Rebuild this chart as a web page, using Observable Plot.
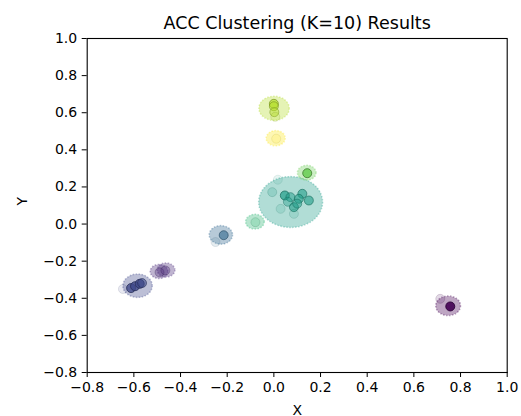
<!DOCTYPE html>
<html><head><meta charset="utf-8">
<script src="https://cdn.jsdelivr.net/npm/d3@7"></script>
<script src="https://cdn.jsdelivr.net/npm/@observablehq/plot@0.6"></script>
<style>body{margin:0;background:#fff}</style>
</head><body><div id="chart"></div>
<script>
const title = "ACC Clustering (K=10) Results";
const xLabel = "X";
const yLabel = "Y";
const xTicks = [-0.8, -0.6, -0.4, -0.2, 0.0, 0.2, 0.4, 0.6, 0.8, 1.0];
const yTicks = [-0.8, -0.6, -0.4, -0.2, 0.0, 0.2, 0.4, 0.6, 0.8, 1.0];

// cluster halos (center and radius in data units)
const haloCluster = [0, 1, 1, 2, 3, 5, 6, 7, 9, 8];
const haloX = [0.749, -0.49, -0.46, -0.582, -0.225, 0.074, -0.079, 0.143, 0.010, 0.003];
const haloY = [-0.443, -0.258, -0.250, -0.335, -0.061, 0.116, 0.010, 0.274, 0.460, 0.621];
const haloR = [0.053, 0.038, 0.038, 0.063, 0.050, 0.137, 0.040, 0.040, 0.041, 0.065];

// member points
const pointCluster = [0, 0, 1, 1, 2, 2, 2, 2, 2, 3, 3, 5, 5, 5, 5, 5, 5, 5, 5, 5, 5, 5, 5, 6, 7, 9, 8, 8, 8, 8];
const pointX = [0.756, 0.713, -0.49, -0.465, -0.612, -0.595, -0.575, -0.565, -0.647, -0.215, -0.25,
  0.047, 0.122, 0.150, 0.086, 0.107, 0.071, 0.100, 0.060, -0.007, 0.017, 0.029, 0.086,
  -0.079, 0.143, 0.010, 0.000, 0.000, 0.002, 0.006];
const pointY = [-0.444, -0.403, -0.26, -0.25, -0.345, -0.335, -0.322, -0.318, -0.350, -0.060, -0.097,
  0.154, 0.163, 0.127, 0.091, 0.136, 0.145, 0.110, 0.120, 0.172, 0.239, 0.082, 0.055,
  0.010, 0.274, 0.460, 0.648, 0.635, 0.603, 0.578];
const pointAlpha = [0.9, 0.15, 0.3, 0.3, 0.8, 0.8, 0.8, 0.6, 0.12, 0.6, 0.12,
  0.7, 0.6, 0.6, 0.6, 0.6, 0.5, 0.5, 0.4, 0.2, 0.1, 0.15, 0.15,
  0.2, 0.9, 0.15, 0.7, 0.6, 0.5, 0.2];

const color = c => d3.interpolateViridis(c / 9);
const halos = haloX.map((x, i) => ({x, y: haloY[i], r: haloR[i], c: haloCluster[i]}));
const pts = pointX.map((x, i) => ({x, y: pointY[i], a: pointAlpha[i], c: pointCluster[i]}));

const haloMark = (index, scales) => {
  const g = d3.create("svg:g");
  for (const h of halos) {
    const cx = scales.x(h.x), cy = scales.y(h.y);
    g.append("ellipse")
      .attr("cx", cx).attr("cy", cy)
      .attr("rx", Math.abs(scales.x(h.x + h.r) - cx))
      .attr("ry", Math.abs(scales.y(h.y + h.r) - cy))
      .attr("fill", color(h.c)).attr("fill-opacity", 0.35)
      .attr("stroke", color(h.c)).attr("stroke-opacity", 0.35)
      .attr("stroke-width", 1.5).attr("stroke-dasharray", "1.5,1.5");
  }
  return g.node();
};

const chart = Plot.plot({
  width: 521, height: 416,
  marginLeft: 86.7, marginRight: 14.3, marginTop: 38, marginBottom: 44,
  style: {fontFamily: "DejaVu Sans", fontSize: "14px", color: "black", background: "white"},
  x: {domain: [-0.8, 1.0], ticks: xTicks, tickFormat: d3.format(".1f"), tickSize: 5, tickPadding: 5, label: null},
  y: {domain: [-0.8, 1.0], ticks: yTicks, tickFormat: d3.format(".1f"), tickSize: 5, tickPadding: 5, label: null},
  color: {type: "identity"},
  opacity: {type: "identity"},
  marks: [
    haloMark,
    Plot.dot(pts, {x: "x", y: "y", r: 4.5, fill: d => color(d.c), fillOpacity: "a",
      stroke: d => d3.color(color(d.c)).darker(1.2).formatHex(), strokeOpacity: "a", strokeWidth: 1}),
    Plot.frame({stroke: "black", strokeWidth: 1.1}),
    Plot.text([title], {frameAnchor: "top", dy: -10, lineAnchor: "bottom", fontSize: 17.5, fill: "black"}),
    Plot.text([xLabel], {frameAnchor: "bottom", dy: 42, lineAnchor: "bottom", fontSize: 14, fill: "black"}),
    Plot.text([yLabel], {frameAnchor: "left", dx: -65, rotate: -90, fontSize: 14, fill: "black"})
  ]
});
document.getElementById("chart").appendChild(chart);
</script>
</body></html>
